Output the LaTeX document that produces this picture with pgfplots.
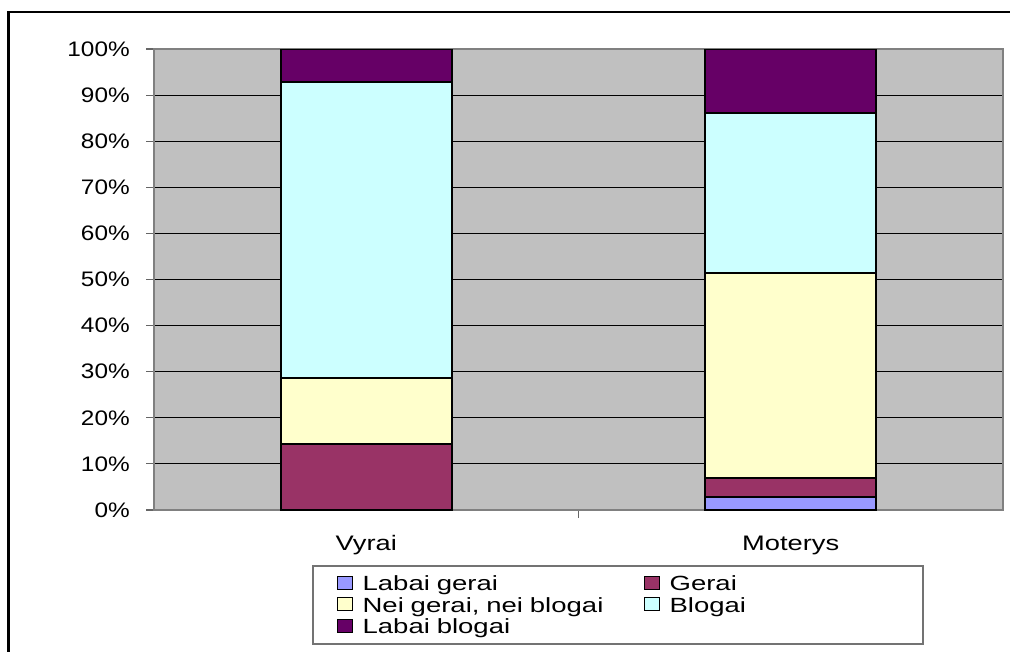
\documentclass[border=0pt]{standalone}
\usepackage{pgfplots}
\pgfplotsset{compat=1.18}
\usepackage{pgfplotstable}
\usepackage{fontspec}
\setmainfont{Liberation Sans}
\newfontfamily\tickfont[FakeStretch=1.16]{Liberation Sans}
\newfontfamily\catfont[FakeStretch=1.3]{Liberation Sans}
\newfontfamily\legfont[FakeStretch=1.34]{Liberation Sans}

\definecolor{labaigerai}{HTML}{9999FF}
\definecolor{gerai}{HTML}{993366}
\definecolor{neinei}{HTML}{FFFFCC}
\definecolor{blogai}{HTML}{CCFFFF}
\definecolor{labaiblogai}{HTML}{660066}
\definecolor{plotbg}{HTML}{C0C0C0}

\pgfplotsset{
  sqlegend/.style={legend image code/.code={\draw[##1,line width=0.75pt] (0pt,-2.2pt) rectangle (11.25pt,7.6pt);}},
}

% values, in percent
\pgfplotstableread{
x  lg     g      n      b      lb
0  0      14.29  14.29  64.29  7.14
1  2.78   4.17   44.44  34.72  13.89
}\shares

\begin{document}
\begin{tikzpicture}
\useasboundingbox (0,0) rectangle (757.5pt,488.25pt);
% outer chart frame (cut off at right and bottom)
\draw[line width=1.8pt] (6.4pt,-10pt) -- (6.4pt,479.25pt) -- (770pt,479.25pt);
% legend frame
\draw[black!55, line width=0.9pt] (234.75pt,5.25pt) rectangle (692.25pt,63.75pt);

\begin{axis}[
    at={(115.5pt,105.75pt)}, anchor=south west,
    scale only axis,
    width=636.75pt, height=345.75pt,
    ybar stacked, bar width=128.25pt,
    xmin=-0.5, xmax=1.5,
    ymin=0, ymax=100,
    axis background/.style={fill=plotbg},
    axis line style={draw=black!50, line width=1pt},
    ymajorgrids, xmajorgrids=false,
    major grid style={black, line width=0.8pt},
    tick align=outside, major tick length=6pt,
    tick style={black!60, line width=0.8pt},
    xtick={0.5}, xticklabels={},
    extra x ticks={0,1},
    extra x tick labels={Vyrai,Moterys},
    extra x tick style={major tick length=0pt, grid=none,
      xticklabel style={anchor=base, yshift=-30.4pt, font=\catfont\fontsize{15.75}{18}\selectfont}},
    ytick={0,10,...,100},
    yticklabel={\pgfmathprintnumber{\tick}\%},
    /pgf/number format/assume math mode=true,
    yticklabel style={font=\tickfont\fontsize{15.75}{18}\selectfont, inner xsep=0pt, xshift=-12pt},
    xtick pos=bottom, ytick pos=left,
    legend columns=2,
    legend cell align=left,
    legend style={draw=none, fill=none,
      at={(rel axis cs:0.2148,-0.1420)}, anchor=north west,
      inner sep=0pt, row sep=0pt,
      font=\legfont\fontsize{15.4}{16}\selectfont,
      nodes={inner xsep=0pt, inner ysep=0pt, text height=11.2pt, text depth=4.9pt, text width=210.75pt},
      /tikz/every odd column/.append style={column sep=7.5pt},
      /tikz/every even column/.append style={column sep=0pt}},
]
\addplot[sqlegend, fill=labaigerai, draw=black, line width=1.2pt] table[x=x,y=lg]{\shares};
\addplot[sqlegend, fill=gerai, draw=black, line width=1.2pt] table[x=x,y=g]{\shares};
\addplot[sqlegend, fill=neinei, draw=black, line width=1.2pt] table[x=x,y=n]{\shares};
\addplot[sqlegend, fill=blogai, draw=black, line width=1.2pt] table[x=x,y=b]{\shares};
\addplot[sqlegend, fill=labaiblogai, draw=black, line width=1.2pt] table[x=x,y=lb]{\shares};
\legend{Labai gerai,Gerai,{Nei gerai, nei blogai},Blogai,Labai blogai}
\end{axis}
\end{tikzpicture}
\end{document}
